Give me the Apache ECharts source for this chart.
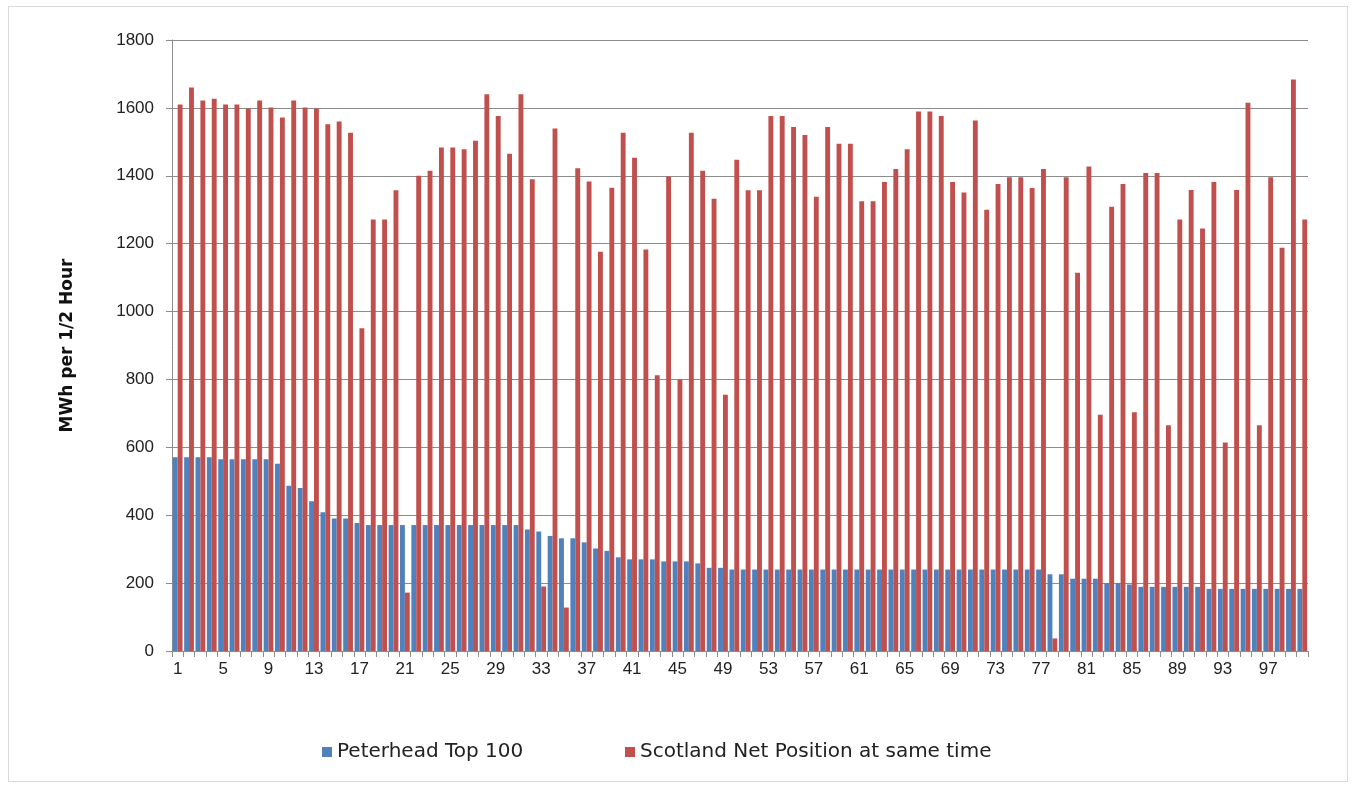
<!DOCTYPE html>
<html>
<head>
<meta charset="utf-8">
<script src="https://cdn.jsdelivr.net/npm/echarts@6/dist/echarts.min.js"></script>
<style>
  html, body { margin: 0; padding: 0; background: #fff; }
  #frame { position: absolute; left: 8px; top: 6px; width: 1338px; height: 774px; border: 1px solid #d9d9d9; }
  #chart { position: absolute; left: 0; top: 0; width: 1355px; height: 787px; }
</style>
</head>
<body>
<div id="frame"></div>
<div id="chart"></div>
<script>
(function (window) {
  'use strict';

  // 100 highest half-hours for Peterhead, with Scotland's net position at the same time
  var categories = [];
  for (var i = 1; i <= 100; i++) categories.push(String(i));

  var peterhead = [
    571, 571, 571, 571, 565, 565, 565, 565, 565, 552,
    487, 480, 441, 409, 390, 390, 377, 371, 371, 371,
    371, 371, 371, 371, 371, 371, 371, 371, 371, 371,
    371, 358, 352, 339, 332, 332, 320, 302, 295, 276,
    270, 270, 270, 264, 264, 264, 258, 245, 245, 240,
    240, 240, 240, 240, 240, 240, 240, 240, 240, 240,
    240, 240, 240, 240, 240, 240, 240, 240, 240, 240,
    240, 240, 240, 240, 240, 240, 240, 226, 226, 213,
    213, 213, 200, 200, 196, 189, 189, 189, 189, 189,
    189, 183, 183, 183, 183, 183, 183, 183, 183, 183
  ];

  var scotland = [
    1610, 1660, 1622, 1627, 1610, 1610, 1598, 1622, 1601, 1572,
    1622, 1601, 1598, 1552, 1560, 1527, 951, 1271, 1271, 1357,
    172, 1400, 1415, 1483, 1483, 1478, 1503, 1640, 1576, 1465,
    1640, 1390, 190, 1539, 128, 1422, 1383, 1176, 1365, 1527,
    1453, 1183, 812, 1398, 800, 1527, 1415, 1332, 755, 1447,
    1357, 1357, 1576, 1576, 1544, 1520, 1338, 1544, 1494, 1494,
    1325, 1325, 1382, 1420, 1478, 1589, 1589, 1576, 1382, 1351,
    1563, 1300, 1376, 1396, 1396, 1364, 1420, 37, 1396, 1114,
    1427, 696, 1309, 1376, 703, 1408, 1408, 665, 1271, 1358,
    1245, 1382, 614, 1358, 1615, 665, 1396, 1188, 1684, 1271
  ];

  var yTicks = { min: 0, max: 1800, interval: 200 };

  var font = '"Liberation Sans", Arial, sans-serif';
  var wideFont = '"DejaVu Sans", Verdana, sans-serif';
  var gridColor = '#8c8c8c';

  var myChart = echarts.init(document.getElementById('chart'));
  var legendText = { fontFamily: wideFont, fontSize: 20, color: '#222' };

  var option = {
    animation: false,
    textStyle: { fontFamily: font },
    grid: { left: 172, right: 47, top: 40, bottom: 136 },
    legend: [{
      data: ['Peterhead Top 100'],
      left: 317, top: 737,
      itemWidth: 10, itemHeight: 10, itemGap: 10,
      icon: 'rect',
      textStyle: legendText
    }, {
      data: ['Scotland Net Position at same time'],
      left: 620, top: 737,
      itemWidth: 10, itemHeight: 10, itemGap: 10,
      icon: 'rect',
      textStyle: legendText
    }],
    xAxis: {
      type: 'category',
      data: categories,
      axisLine: { lineStyle: { color: gridColor, width: 1 } },
      axisTick: { show: true, interval: 0, length: 6, lineStyle: { color: gridColor } },
      axisLabel: { interval: 3, margin: 10, fontSize: 17, color: '#222', fontFamily: font },
      splitLine: { show: false }
    },
    yAxis: {
      type: 'value',
      min: yTicks.min,
      max: yTicks.max,
      interval: yTicks.interval,
      name: 'MWh per 1/2 Hour',
      nameLocation: 'middle',
      nameGap: 96,
      nameTextStyle: { fontFamily: wideFont, fontSize: 17, fontWeight: 'bold', color: '#111' },
      axisLine: { show: true, lineStyle: { color: gridColor, width: 1 } },
      axisTick: { show: true, length: 6, lineStyle: { color: gridColor } },
      axisLabel: {
        margin: 18, fontSize: 17, color: '#222', fontFamily: font,
        formatter: function (v) { return String(v); }
      },
      splitLine: { show: true, lineStyle: { color: gridColor, width: 1 } }
    },
    series: [{
      name: 'Peterhead Top 100',
      type: 'bar',
      data: peterhead,
      barGap: '0%',
      barCategoryGap: '14%',
      itemStyle: { color: '#4f81bd' }
    }, {
      name: 'Scotland Net Position at same time',
      type: 'bar',
      data: scotland,
      itemStyle: { color: '#c0504d' }
    }]
  };

  myChart.setOption(option);
})(window);
</script>
</body>
</html>
